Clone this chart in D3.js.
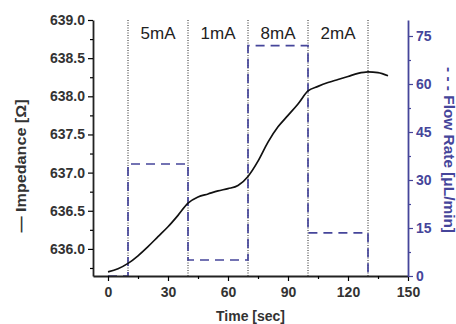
<!DOCTYPE html>
<html>
<head>
<meta charset="utf-8">
<script src="https://cdn.jsdelivr.net/npm/d3@7"></script>
<style>
  body { margin: 0; background: #fff; }
  svg { font-family: Arial, "Liberation Sans", sans-serif; }
</style>
</head>
<body>
<div id="chart"></div>
<script>
// impedance curve
const timeSec = [0, 5, 10, 15, 20, 25, 30, 35, 40, 45, 50, 55, 60, 65, 70, 75, 80, 85, 90, 95, 100, 105, 110, 115, 120, 125, 130, 135, 140];
const impedance = [635.70, 635.74, 635.81, 635.91, 636.03, 636.16, 636.29, 636.44, 636.60, 636.68, 636.72, 636.76, 636.79, 636.83, 636.95, 637.15, 637.40, 637.60, 637.75, 637.90, 638.07, 638.13, 638.18, 638.22, 638.26, 638.30, 638.32, 638.31, 638.27];

// flow rate steps
const flowTime = [0, 10, 10, 40, 40, 70, 70, 100, 100, 130, 130];
const flowRate = [0, 0, 35, 35, 5, 5, 72, 72, 13.5, 13.5, 0];

// current phases
const phaseEdges = [10, 40, 70, 100, 130];
const phaseLabels = ["5mA", "1mA", "8mA", "2mA"];

const xTicks = [0, 30, 60, 90, 120, 150];
const yTicks = [636.0, 636.5, 637.0, 637.5, 638.0, 638.5, 639.0];
const y2Ticks = [0, 15, 30, 45, 60, 75];

const W = 456, H = 324;
const blue = "#45459a";
const mLeft = 93, mRight = 408, mTop = 20, mBottom = 276;
const font = "Arial, 'Liberation Sans', sans-serif";

const svg = d3.select("#chart").append("svg").attr("width", W).attr("height", H);

const x = d3.scaleLinear().domain([-7.5, 150]).range([mLeft, mRight]);
const y = d3.scaleLinear().domain([635.645, 639.0]).range([mBottom, mTop]);
const y2 = d3.scaleLinear().domain([0, 80]).range([mBottom, mTop]);

// dotted phase lines
svg.selectAll(".edge")
  .data(phaseEdges)
  .enter()
  .append("line")
  .attr("x1", d => x(d)).attr("x2", d => x(d))
  .attr("y1", mTop).attr("y2", mBottom)
  .attr("stroke", "#222")
  .attr("stroke-width", 1)
  .attr("stroke-dasharray", "1,1.5");

// phase labels
svg.selectAll(".phase")
  .data(phaseLabels)
  .enter()
  .append("text")
  .attr("x", (d, i) => x((phaseEdges[i] + phaseEdges[i + 1]) / 2))
  .attr("y", 39)
  .attr("text-anchor", "middle")
  .attr("font-size", 17)
  .attr("fill", "#222")
  .text(d => d);

// flow rate (dashed)
const flowLine = d3.line().x(d => x(d[0])).y(d => y2(d[1]));
svg.append("path")
  .attr("d", flowLine(flowTime.map((t, i) => [t, flowRate[i]])))
  .attr("fill", "none")
  .attr("stroke", blue)
  .attr("stroke-width", 1.7)
  .attr("stroke-dasharray", "9,6");

// impedance curve
const impLine = d3.line().curve(d3.curveMonotoneX).x(d => x(d[0])).y(d => y(d[1]));
svg.append("path")
  .attr("d", impLine(timeSec.map((t, i) => [t, impedance[i]])))
  .attr("fill", "none")
  .attr("stroke", "#111")
  .attr("stroke-width", 1.7);

// axes
const xAxis = svg.append("g")
  .attr("transform", `translate(0,${mBottom})`)
  .call(d3.axisBottom(x).tickValues(xTicks).tickSize(5).tickPadding(6).tickSizeOuter(0).tickFormat(d3.format("d")));
svg.append("g")
  .attr("transform", `translate(0,${mBottom})`)
  .call(d3.axisBottom(x).tickValues(d3.range(15, 150, 30)).tickSize(3).tickFormat("").tickSizeOuter(0))
  .select(".domain").remove();

const yAxis = svg.append("g")
  .attr("transform", `translate(${mLeft},0)`)
  .call(d3.axisLeft(y).tickValues(yTicks).tickSize(5).tickSizeOuter(0).tickFormat(d3.format(".1f")));
svg.append("g")
  .attr("transform", `translate(${mLeft},0)`)
  .call(d3.axisLeft(y).tickValues(d3.range(635.75, 639, 0.5)).tickSize(3).tickFormat("").tickSizeOuter(0))
  .select(".domain").remove();

const y2Axis = svg.append("g")
  .attr("transform", `translate(${mRight},0)`)
  .call(d3.axisRight(y2).tickValues(y2Ticks).tickSize(5).tickSizeOuter(0).tickFormat(d3.format("d")));
const y2Minor = svg.append("g")
  .attr("transform", `translate(${mRight},0)`)
  .call(d3.axisRight(y2).tickValues(d3.range(7.5, 80, 15)).tickSize(3).tickFormat("").tickSizeOuter(0));
y2Minor.select(".domain").remove();

svg.selectAll("g .domain").attr("stroke-width", 1.8);
svg.selectAll("g line").attr("stroke-width", 1.2);
[xAxis, yAxis].forEach(g => {
  g.select(".domain").attr("stroke", "#222");
  g.selectAll("text").attr("font-size", 14).attr("font-weight", "bold").attr("fill", "#333")
    .attr("font-family", font);
});
y2Axis.select(".domain").attr("stroke", blue);
y2Axis.selectAll("line").attr("stroke", blue);
y2Minor.selectAll("line").attr("stroke", blue);
y2Axis.selectAll("text").attr("font-size", 14).attr("font-weight", "bold").attr("fill", blue)
  .attr("font-family", font);

// axis titles
svg.append("text")
  .attr("x", (mLeft + mRight) / 2)
  .attr("y", 321)
  .attr("text-anchor", "middle")
  .attr("font-size", 14)
  .attr("font-weight", "bold")
  .attr("fill", "#333")
  .text("Time [sec]");

svg.append("text")
  .attr("transform", "translate(26,166) rotate(-90)")
  .attr("text-anchor", "middle")
  .attr("font-size", 14)
  .attr("font-weight", "bold")
  .attr("fill", "#333")
  .attr("textLength", 133)
  .attr("lengthAdjust", "spacingAndGlyphs")
  .text("\u2014 Impedance [\u03A9]");

svg.append("text")
  .attr("transform", "translate(444,150) rotate(90)")
  .attr("text-anchor", "middle")
  .attr("font-size", 14)
  .attr("font-weight", "bold")
  .attr("fill", blue)
  .attr("textLength", 166)
  .attr("lengthAdjust", "spacingAndGlyphs")
  .text("- - - Flow Rate [\u03BCL/min]");
</script>
</body>
</html>
